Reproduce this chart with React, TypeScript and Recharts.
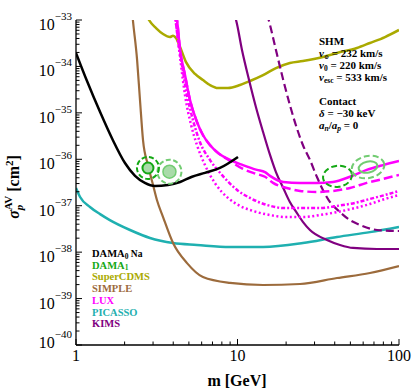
import { ComposedChart, Line, Scatter, XAxis, YAxis } from 'recharts';

const FONT = '"Liberation Serif", "Times New Roman", serif';

// axis ticks (log axes, majors per decade + minor 2..9)
const X_MAJOR = [1, 10, 100];
const Y_MAJOR = [1e-40, 1e-39, 1e-38, 1e-37, 1e-36, 1e-35, 1e-34, 1e-33];
const MINOR_STEPS = [2, 3, 4, 5, 6, 7, 8, 9];
const X_TICKS = [...X_MAJOR, ...X_MAJOR.slice(0, -1).flatMap((d) => MINOR_STEPS.map((k) => d * k))];
const Y_TICKS = [...Y_MAJOR, ...Y_MAJOR.slice(0, -1).flatMap((d) => MINOR_STEPS.map((k) => d * k))];

// [m (GeV), sigma (cm^2)]
const DAMA0_NA = [
  [1.0, 1.95e-34], [1.17, 4.85e-35], [1.41, 1.04e-35], [1.69, 2.6e-36], [2.01, 8.3e-37],
  [2.32, 4.4e-37], [2.67, 3.1e-37], [3.08, 2.66e-37], [3.71, 2.8e-37], [4.41, 3.25e-37],
  [5.23, 4.2e-37], [6.29, 5.1e-37], [7.79, 6.5e-37], [10.07, 1.12e-36],
];
const SUPERCDMS = [
  [2.71, 1.35e-33], [2.83, 1.0e-33], [3.13, 6.7e-34], [3.46, 5.0e-34], [3.82, 4.3e-34],
  [3.99, 4.6e-34], [4.16, 4.1e-34], [4.41, 2.62e-34], [4.8, 1.24e-34], [5.46, 6.9e-35],
  [6.11, 5.1e-35], [6.75, 3.98e-35], [7.57, 3.43e-35], [8.73, 3.43e-35], [10.36, 3.98e-35],
  [11.95, 4.85e-35], [14.4, 6.5e-35], [17.3, 9.2e-35], [21.1, 1.19e-34], [25.4, 1.31e-34],
  [33.8, 1.6e-34], [41.3, 1.95e-34], [54.9, 2.5e-34], [66.1, 3.2e-34], [81.9, 4.3e-34],
  [100, 6.1e-34],
];
const SIMPLE = [
  [2.22, 1.64e-33], [2.25, 1.0e-33], [2.39, 1.37e-34], [2.49, 1.89e-35], [2.6, 2.6e-36],
  [2.79, 7.5e-37], [3.0, 2.8e-37], [3.17, 1.33e-37], [3.46, 5.7e-38], [3.99, 1.57e-38],
  [4.87, 5.8e-39], [6.11, 2.9e-39], [8.99, 2.17e-39], [14.4, 1.96e-39], [24.4, 2.06e-39],
  [41.3, 2.77e-39], [66.1, 3.56e-39], [100, 5.0e-39],
];
const LUX_SOLID = [
  [4.16, 1.35e-33], [4.22, 1.0e-33], [4.41, 2.26e-34], [4.73, 6.5e-35], [5.08, 1.89e-35],
  [5.61, 6.4e-36], [6.11, 3.33e-36], [6.75, 2.03e-36], [7.45, 1.44e-36], [8.99, 9.7e-37],
  [10.81, 7.5e-37], [13.2, 5.9e-37], [14.8, 5.3e-37], [15.9, 4.4e-37], [19.2, 3.25e-37],
  [24.4, 3.1e-37], [31.0, 3.1e-37], [39.0, 3.25e-37], [49.7, 4.2e-37], [63.1, 5.9e-37],
  [79.4, 7.5e-37], [100, 9.2e-37],
];
const LUX_DASHED = [
  [4.16, 1.35e-33], [4.22, 1.0e-33], [4.41, 2.26e-34], [4.73, 6.5e-35], [5.08, 1.89e-35],
  [5.61, 6.4e-36], [6.11, 3.33e-36], [6.75, 2.03e-36], [7.45, 1.44e-36], [8.99, 9.2e-37],
  [10.81, 6.2e-37], [13.2, 4.8e-37], [14.8, 4.2e-37], [16.6, 3.1e-37], [20.2, 2.41e-37],
  [24.4, 2.08e-37], [31.0, 1.98e-37], [39.0, 2.08e-37], [49.7, 2.41e-37], [63.1, 3.1e-37],
  [79.4, 3.76e-37], [100, 4.6e-37],
];
const LUX_DASHDOT = [
  [4.1, 1.35e-33], [4.28, 3.7e-34], [4.53, 1.07e-34], [4.8, 3.1e-35], [5.3, 7.0e-36],
  [5.85, 2.36e-36], [6.75, 9.7e-37], [8.01, 4.6e-37], [9.94, 2.18e-37], [11.95, 1.47e-37],
  [15.2, 1.04e-37], [19.7, 8.9e-38], [25.4, 8.9e-38], [32.4, 8.9e-38], [41.3, 9.9e-38],
  [53.4, 1.15e-37], [66.1, 1.4e-37], [81.9, 1.7e-37], [100, 2.08e-37],
];
const LUX_DOTTED = [
  [4.1, 1.35e-33], [4.28, 3.7e-34], [4.47, 1.07e-34], [4.73, 2.43e-35], [5.16, 5.5e-36],
  [5.61, 2.03e-36], [6.29, 7.5e-37], [7.24, 3.1e-37], [8.73, 1.47e-37], [10.36, 9.9e-38],
  [12.5, 7.7e-38], [15.9, 6.3e-38], [20.2, 5.7e-38], [25.4, 5.7e-38], [32.4, 6.3e-38],
  [41.3, 7.3e-38], [53.4, 8.9e-38], [66.1, 1.09e-37], [81.9, 1.4e-37], [100, 1.7e-37],
];
const PICASSO = [
  [1.0, 2.41e-37], [1.06, 1.54e-37], [1.22, 9.4e-38], [1.41, 6.6e-38], [1.62, 4.9e-38],
  [2.16, 3.0e-38], [2.87, 2.02e-38], [3.99, 1.57e-38], [5.61, 1.43e-38], [8.99, 1.29e-38],
  [14.4, 1.29e-38], [25.4, 1.57e-38], [41.3, 2.12e-38], [66.1, 2.7e-38], [100, 3.5e-38],
];
const KIMS_SOLID = [
  [9.51, 1.35e-33], [9.79, 1.0e-33], [10.66, 2.26e-34], [11.79, 5.1e-35], [13.0, 1.34e-35],
  [14.4, 3.87e-36], [15.9, 1.24e-36], [17.3, 5.3e-37], [19.2, 2.41e-37], [21.1, 1.2e-37],
  [23.3, 7.0e-38], [25.4, 4.5e-38], [28.1, 3.0e-38], [35.8, 1.83e-38], [43.1, 1.43e-38],
  [51.9, 1.23e-38], [73.1, 1.17e-38], [100, 1.17e-38],
];
const KIMS_DASHED = [
  [15.2, 1.35e-33], [15.6, 1.0e-33], [17.3, 2.26e-34], [19.2, 5.1e-35], [21.1, 1.48e-35],
  [23.3, 4.7e-36], [25.4, 2.03e-36], [28.1, 9.7e-37], [31.0, 4.2e-37], [33.8, 2.18e-37],
  [37.4, 1.2e-37], [43.1, 7.3e-38], [49.7, 4.9e-38], [57.3, 3.85e-38], [73.1, 3.0e-38],
  [100, 2.85e-38],
];
// DAMA allowed regions (centres)
const DAMA_DARK = [[2.79, 6.5e-37], [41.6, 4.3e-37]];
const DAMA_LIGHT = [[3.79, 5.4e-37], [64.3, 6.8e-37]];

const LEGEND = ['DAMA', 'DAMA', 'SuperCDMS', 'SIMPLE', 'LUX', 'PICASSO', 'KIMS'];
const LEGEND_SUB = ['0', '1', '', '', '', '', ''];
const LEGEND_SUFFIX = [' Na', '', '', '', '', '', ''];

const C = {
  black: '#000000',
  green: '#14a814',
  lightGreen: '#72cc72',
  greenFill: '#a9dba9',
  olive: '#aaaa00',
  brown: '#9c6b3c',
  magenta: '#ff00ff',
  teal: '#1fb0b0',
  purple: '#800080',
};
const LEGEND_COLORS = [C.black, C.green, C.olive, C.brown, C.magenta, C.teal, C.purple];

const rows = (pts: number[][]) => pts.map(([m, s]) => ({ m, s }));

const isMajor = (v: number) => Math.abs(Math.log10(v) - Math.round(Math.log10(v))) < 1e-6;

function BottomTick({ x, y, payload }: any) {
  const major = isMajor(payload.value);
  return (
    <g>
      <line x1={x} y1={y} x2={x} y2={y - (major ? 6 : 3.5)} stroke="#000" strokeWidth={1} />
      {major && (
        <text x={x} y={y + 16} textAnchor="middle" fontSize={16} fontFamily={FONT} fill="#000">
          {payload.value}
        </text>
      )}
    </g>
  );
}

function TopTick({ x, y, payload }: any) {
  const major = isMajor(payload.value);
  return <line x1={x} y1={y} x2={x} y2={y + (major ? 6 : 3.5)} stroke="#000" strokeWidth={1} />;
}

function LeftTick({ x, y, payload }: any) {
  const major = isMajor(payload.value);
  const exp = Math.round(Math.log10(payload.value));
  const base = exp === -40 ? y + 3 : y + 10;
  return (
    <g>
      <line x1={x} y1={y} x2={x + (major ? 6 : 3.5)} y2={y} stroke="#000" strokeWidth={1} />
      {major && (
        <text x={x - 4} y={base} textAnchor="end" fontSize={16} fontFamily={FONT} fill="#000">
          10
          <tspan fontSize={11} dy={-10}>{'\u2212' + Math.abs(exp)}</tspan>
        </text>
      )}
    </g>
  );
}

function RightTick({ x, y, payload }: any) {
  const major = isMajor(payload.value);
  return <line x1={x} y1={y} x2={x - (major ? 6 : 3.5)} y2={y} stroke="#000" strokeWidth={1} />;
}

const ringLeftDark = ({ cx, cy }: any) => (
  <g>
    <circle cx={cx} cy={cy} r={11} fill="none" stroke={C.green} strokeWidth={2} strokeDasharray="5 2.5" />
    <circle cx={cx} cy={cy} r={5.5} fill={C.greenFill} stroke={C.green} strokeWidth={2} />
  </g>
);
const ringLeftLight = ({ cx, cy }: any) => (
  <g>
    <circle cx={cx} cy={cy} r={12} fill="none" stroke={C.lightGreen} strokeWidth={2} strokeDasharray="5 2.5" />
    <circle cx={cx} cy={cy} r={6.5} fill={C.greenFill} stroke={C.lightGreen} strokeWidth={1.5} />
  </g>
);
const ringRightDark = ({ cx, cy }: any) => (
  <ellipse cx={cx} cy={cy} rx={14.5} ry={10.5} fill="none" stroke={C.green} strokeWidth={2} strokeDasharray="6 3" transform={`rotate(-8 ${cx} ${cy})`} />
);
const ringRightLight = ({ cx, cy }: any) => (
  <g transform={`rotate(-12 ${cx} ${cy})`}>
    <ellipse cx={cx} cy={cy} rx={16.5} ry={11} fill="none" stroke={C.lightGreen} strokeWidth={2} strokeDasharray="6 3" />
    <ellipse cx={cx} cy={cy} rx={9.5} ry={5.5} fill="none" stroke={C.lightGreen} strokeWidth={2} />
  </g>
);

const lineProps = {
  dataKey: 's',
  type: 'monotone' as const,
  dot: false,
  activeDot: false,
  isAnimationActive: false,
};

export default function App() {
  const sub = { fontSize: 7.5 };
  return (
    <div style={{ position: 'absolute', left: 0, top: 0, width: 413, height: 390, background: '#fff' }}>
      <ComposedChart width={413} height={390} margin={{ top: 20, right: 14, bottom: 5, left: 0 }}>
        <XAxis
          type="number"
          dataKey="m"
          scale="log"
          domain={[1, 100]}
          allowDataOverflow
          ticks={X_TICKS}
          interval={0}
          tick={BottomTick}
          tickLine={false}
          tickSize={0}
          tickMargin={0}
          height={40}
          axisLine={{ stroke: '#000', strokeWidth: 1.3 }}
        />
        <XAxis
          xAxisId="top"
          orientation="top"
          type="number"
          dataKey="m"
          scale="log"
          domain={[1, 100]}
          allowDataOverflow
          ticks={X_TICKS}
          interval={0}
          tick={TopTick}
          tickLine={false}
          tickSize={0}
          tickMargin={0}
          height={0}
          axisLine={{ stroke: '#000', strokeWidth: 1.3 }}
        />
        <YAxis
          type="number"
          scale="log"
          domain={[1e-40, 1e-33]}
          allowDataOverflow
          ticks={Y_TICKS}
          interval={0}
          tick={LeftTick}
          tickLine={false}
          tickSize={0}
          tickMargin={0}
          width={76}
          axisLine={{ stroke: '#000', strokeWidth: 1.3 }}
        />
        <YAxis
          yAxisId="right"
          orientation="right"
          type="number"
          scale="log"
          domain={[1e-40, 1e-33]}
          allowDataOverflow
          ticks={Y_TICKS}
          interval={0}
          tick={RightTick}
          tickLine={false}
          tickSize={0}
          tickMargin={0}
          width={0}
          axisLine={{ stroke: '#000', strokeWidth: 1.3 }}
        />

        <Line {...lineProps} data={rows(PICASSO)} stroke={C.teal} strokeWidth={2.5} />
        <Line {...lineProps} data={rows(SIMPLE)} stroke={C.brown} strokeWidth={2.2} />
        <Line {...lineProps} data={rows(SUPERCDMS)} stroke={C.olive} strokeWidth={2.5} />
        <Line {...lineProps} data={rows(KIMS_DASHED)} stroke={C.purple} strokeWidth={2.2} strokeDasharray="8 4" />
        <Line {...lineProps} data={rows(KIMS_SOLID)} stroke={C.purple} strokeWidth={2.2} />
        <Line {...lineProps} data={rows(LUX_DOTTED)} stroke={C.magenta} strokeWidth={2.5} strokeDasharray="2 2.5" />
        <Line {...lineProps} data={rows(LUX_DASHDOT)} stroke={C.magenta} strokeWidth={2.5} strokeDasharray="4 2 2 2" />
        <Line {...lineProps} data={rows(LUX_DASHED)} stroke={C.magenta} strokeWidth={2.5} strokeDasharray="9 4" />
        <Line {...lineProps} data={rows(LUX_SOLID)} stroke={C.magenta} strokeWidth={2.5} />
        <Line {...lineProps} data={rows(DAMA0_NA)} stroke={C.black} strokeWidth={2.5} />

        <Scatter data={rows(DAMA_LIGHT.slice(0, 1))} dataKey="s" shape={ringLeftLight} isAnimationActive={false} />
        <Scatter data={rows(DAMA_DARK.slice(0, 1))} dataKey="s" shape={ringLeftDark} isAnimationActive={false} />
        <Scatter data={rows(DAMA_DARK.slice(1))} dataKey="s" shape={ringRightDark} isAnimationActive={false} />
        <Scatter data={rows(DAMA_LIGHT.slice(1))} dataKey="s" shape={ringRightLight} isAnimationActive={false} />
      </ComposedChart>

      <svg width={413} height={390} style={{ position: 'absolute', left: 0, top: 0, pointerEvents: 'none' }} fontFamily={FONT}>
        {/* axis titles */}
        <text x={237} y={386} textAnchor="middle" fontSize={16} fontWeight="bold">m [GeV]</text>
        <text transform="translate(19,187) rotate(-90)" textAnchor="middle" fontSize={16} fontWeight="bold">
          <tspan fontStyle="italic">σ</tspan>
          <tspan fontSize={11} fontStyle="italic" dy={4}>p</tspan>
          <tspan fontSize={11} dx={-5.5} dy={-11}>AV</tspan>
          <tspan dy={7}> [cm</tspan>
          <tspan fontSize={11} dy={-6}>2</tspan>
          <tspan dy={6}>]</tspan>
        </text>

        {/* legend */}
        {LEGEND.map((name, i) => (
          <text key={i} x={92} y={257 + i * 11.7} fontSize={10.5} fontWeight="bold" fill={LEGEND_COLORS[i]}>
            {name}
            {LEGEND_SUB[i] && <tspan fontSize={7.5} dy={1.5}>{LEGEND_SUB[i]}</tspan>}
            {LEGEND_SUFFIX[i] && <tspan fontSize={9.5} dy={-1.5}>{LEGEND_SUFFIX[i]}</tspan>}
          </text>
        ))}

        {/* halo / interaction annotation */}
        <g fontSize={11} fontWeight="bold" fill="#000">
          <text x={319} y={45}>SHM</text>
          <text x={319} y={57}>
            <tspan fontStyle="italic">v</tspan>
            <tspan fontSize={6} fontFamily="DejaVu Serif" dy={1.5}>⊙</tspan>
            <tspan dy={-1.5}> = 232 km/s</tspan>
          </text>
          <text x={319} y={69}>
            <tspan fontStyle="italic">v</tspan>
            <tspan {...sub} dy={2}>0</tspan>
            <tspan dy={-2}> = 220 km/s</tspan>
          </text>
          <text x={319} y={81}>
            <tspan fontStyle="italic">v</tspan>
            <tspan {...sub} dy={2}>esc</tspan>
            <tspan dy={-2}> = 533 km/s</tspan>
          </text>
          <text x={319} y={105}>Contact</text>
          <text x={319} y={117}>
            <tspan fontStyle="italic">δ</tspan> = −30 keV
          </text>
          <text x={319} y={129}>
            <tspan fontStyle="italic">a</tspan>
            <tspan {...sub} fontStyle="italic" dy={2}>n</tspan>
            <tspan dy={-2}>/</tspan>
            <tspan fontStyle="italic">a</tspan>
            <tspan {...sub} fontStyle="italic" dy={2}>p</tspan>
            <tspan dy={-2}> = 0</tspan>
          </text>
        </g>
      </svg>
    </div>
  );
}
